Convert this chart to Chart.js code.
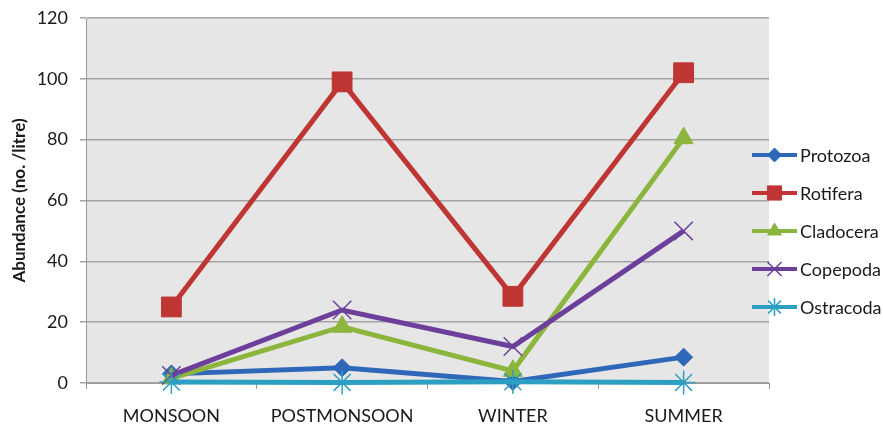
<!DOCTYPE html>
<html>
<head>
<meta charset="utf-8">
<script src="https://cdn.jsdelivr.net/npm/chart.js@4/dist/chart.umd.min.js"></script>
<style>
  html, body { margin: 0; padding: 0; background: #ffffff; }
  #wrap { width: 883px; height: 428px; position: relative; }
</style>
</head>
<body>
<div id="wrap"><canvas id="c"></canvas></div>
<script>
// Seasons on the x axis
const seasons = ['MONSOON', 'POSTMONSOON', 'WINTER', 'SUMMER'];

// Abundance (no. / litre) per group and season
const protozoa  = [3, 5, 0.5, 8.5];
const rotifera  = [25, 99, 28.5, 102];
const cladocera = [1.5, 18.5, 4, 80.5];
const copepoda  = [2.5, 24, 12, 50];
const ostracoda = [0.3, 0.2, 0.4, 0.2];

// y-axis ticks
const yTicks = [0, 20, 40, 60, 80, 100, 120];

const FONT = 'Lato, "Open Sans", "Liberation Sans", sans-serif';

function series(label, data, color, style, radius, legendRadius, order) {
  return {
    label, data, order, legendRadius,
    borderColor: color,
    backgroundColor: color,
    borderWidth: 5,
    pointStyle: style,
    pointRadius: radius,
    pointHoverRadius: radius,
    pointBorderColor: color,
    pointBackgroundColor: color,
    pointBorderWidth: (style === 'crossRot' || style === 'star') ? 1.5 : 1,
    tension: 0,
    fill: false,
    clip: false
  };
}

const datasets = [
  series('Protozoa',  protozoa,  '#2f68b8', 'rectRot',  9,  7, 5),
  series('Rotifera',  rotifera,  '#bf3533', 'rect',     14, 10, 4),
  series('Cladocera', cladocera, '#8bb53c', 'triangle', 11, 8, 3),
  series('Copepoda',  copepoda,  '#6c3f9b', 'crossRot', 13, 10, 2),
  series('Ostracoda', ostracoda, '#2c9fc3', 'star',     12, 9, 1)
];

// Plot-area fill behind the grid
const plotBackground = {
  id: 'plotBackground',
  beforeDraw(chart) {
    const { ctx, chartArea: a } = chart;
    ctx.save();
    ctx.fillStyle = '#e6e6e6';
    ctx.fillRect(a.left, a.top, a.right - a.left, a.bottom - a.top);
    ctx.restore();
  }
};

// Legend at the right: short line with marker, then the series name
const sideLegend = {
  id: 'sideLegend',
  afterDraw(chart) {
    const { ctx } = chart;
    const x0 = 752, x1 = 797, textX = 800, y0 = 155, step = 38;
    chart.data.datasets.forEach((ds, i) => {
      const y = y0 + i * step;
      ctx.save();
      ctx.strokeStyle = ds.borderColor;
      ctx.lineWidth = 4;
      ctx.beginPath();
      ctx.moveTo(x0, y);
      ctx.lineTo(x1, y);
      ctx.stroke();
      ctx.fillStyle = ds.pointBackgroundColor;
      ctx.strokeStyle = ds.pointBorderColor;
      ctx.lineWidth = ds.pointBorderWidth;
      Chart.helpers.drawPoint(ctx, { pointStyle: ds.pointStyle, radius: ds.legendRadius, borderWidth: ds.pointBorderWidth, rotation: 0 }, (x0 + x1) / 2, y);
      ctx.fillStyle = '#1a1a1a';
      ctx.font = '18px ' + FONT;
      ctx.textBaseline = 'middle';
      ctx.textAlign = 'left';
      ctx.fillText(ds.label, textX, y + 1);
      ctx.restore();
    });
  }
};

new Chart(document.getElementById('c'), {
  type: 'line',
  data: { labels: seasons, datasets },
  plugins: [plotBackground, sideLegend],
  options: {
    responsive: true,
    maintainAspectRatio: false,
    animation: false,
    events: [],
    layout: { padding: { top: 18, right: 114, bottom: 0, left: 0 } },
    plugins: {
      legend: { display: false },
      tooltip: { enabled: false }
    },
    scales: {
      x: {
        offset: true,
        grid: {
          display: true,
          offset: true,
          drawOnChartArea: false,
          drawTicks: true,
          tickLength: 6,
          color: '#9a9a9a',
          lineWidth: 1
        },
        border: { display: true, color: '#9a9a9a', width: 1 },
        ticks: {
          color: '#1a1a1a',
          font: { family: FONT, size: 18 },
          padding: 16,
          maxRotation: 0,
          autoSkip: false
        },
        afterFit(scale) { scale.height = 45; }
      },
      y: {
        min: 0,
        max: 120,
        afterBuildTicks(scale) { scale.ticks = yTicks.map(v => ({ value: v })); },
        grid: {
          color: '#a3a3a3',
          lineWidth: 1.5,
          tickLength: 6,
          drawTicks: true
        },
        border: { display: true, color: '#9a9a9a', width: 1 },
        ticks: {
          color: '#1a1a1a',
          font: { family: FONT, size: 18 },
          padding: 12
        },
        title: {
          display: true,
          text: 'Abundance (no. /litre)',
          color: '#1a1a1a',
          font: { family: FONT, size: 17, weight: 'bold' },
          padding: { top: 9, bottom: 0 }
        },
        afterFit(scale) {
          scale.width = 86;
          scale.paddingTop = 0;
          scale.paddingBottom = 0;
        }
      }
    }
  }
});
</script>
</body>
</html>
